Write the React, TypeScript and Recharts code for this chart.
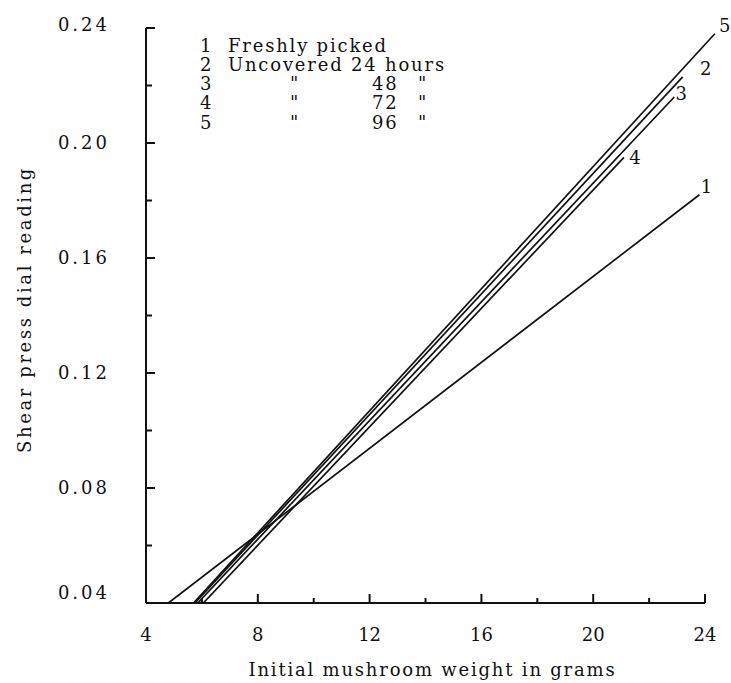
import { LineChart, Line, XAxis, YAxis, ReferenceLine, Legend, Label } from 'recharts';

// tick values
const weightTicks = [4, 6, 8, 10, 12, 14, 16, 18, 20, 22, 24];
const readingTicks = [0.04, 0.06, 0.08, 0.1, 0.12, 0.14, 0.16, 0.18, 0.2, 0.22, 0.24];

// each curve is a straight fit: start on the x axis, end at the top right
const freshlyPicked = [
  { weight: 4.8, reading: 0.04 },
  { weight: 23.8, reading: 0.182 },
];
const uncovered24 = [
  { weight: 5.75, reading: 0.04 },
  { weight: 23.2, reading: 0.223 },
];
const uncovered48 = [
  { weight: 5.85, reading: 0.04 },
  { weight: 22.9, reading: 0.216 },
];
const uncovered72 = [
  { weight: 6.05, reading: 0.04 },
  { weight: 21.1, reading: 0.195 },
];
const uncovered96 = [
  { weight: 5.7, reading: 0.04 },
  { weight: 24.35, reading: 0.238 },
];

const seriesIds = ['1', '2', '3', '4', '5'];
const seriesHours = [0, 24, 48, 72, 96];

const font = '"DejaVu Serif", serif';
const ink = '#111';

// where each curve number sits relative to the curve's end
const endLabelOffset: Record<string, [number, number]> = {
  '1': [7, -8],
  '2': [23, -8],
  '3': [7, -3],
  '4': [11, 0],
  '5': [10, -8],
};

const WeightTick = (props: any) => {
  const { x, y, payload } = props;
  const v = payload.value;
  const major = v % 4 === 0;
  return (
    <g>
      <line x1={x} x2={x} y1={y} y2={y - (major ? 9 : 5)} stroke={ink} strokeWidth={2} />
      {major && (
        <text x={x} y={y + 32} dy="0.35em" textAnchor="middle" fontFamily={font} fontSize={18} fill={ink}>
          {v}
        </text>
      )}
    </g>
  );
};

const ReadingTick = (props: any) => {
  const { x, y, payload } = props;
  const v = payload.value;
  const hundredths = Math.round(v * 100);
  const major = hundredths % 4 === 0;
  const shift = hundredths === 4 ? -10 : hundredths === 24 ? -3 : 0;
  return (
    <g>
      <line x1={x} x2={x + (major ? 9 : 6)} y1={y} y2={y} stroke={ink} strokeWidth={2} />
      {major && (
        <text
          x={x - 36}
          y={y + shift}
          dy="0.35em"
          textAnchor="end"
          fontFamily={font}
          fontSize={18}
          letterSpacing={3}
          fill={ink}
        >
          {v.toFixed(2)}
        </text>
      )}
    </g>
  );
};

const endLabel = (id: string) => (props: any) => {
  if (props.index !== 1) return <g />;
  const [dx, dy] = endLabelOffset[id];
  return (
    <text
      x={props.x + dx}
      y={props.y + dy}
      dy="0.35em"
      textAnchor="middle"
      fontFamily={font}
      fontSize={18}
      fill={ink}
    >
      {id}
    </text>
  );
};

const XTitle = (props: any) => {
  const { x, y, width } = props.viewBox;
  return (
    <text x={x + width / 2} y={y + 67} dy="0.35em" textAnchor="middle" fontFamily={font} fontSize={18} letterSpacing={1.8} fill={ink}>
      Initial mushroom weight in grams
    </text>
  );
};

const YTitle = (props: any) => {
  const { y, height } = props.viewBox;
  const cx = 25;
  const cy = y + height / 2 - 6;
  return (
    <text
      x={cx}
      y={cy}
      dy="0.35em"
      textAnchor="middle"
      transform={`rotate(-90, ${cx}, ${cy})`}
      fontFamily={font}
      fontSize={18}
      letterSpacing={2.6}
      fill={ink}
    >
      Shear press dial reading
    </text>
  );
};

const rowHeight = 19.3;

const LegendBlock = () => (
  <div style={{ position: 'relative', fontFamily: font, fontSize: 18, color: ink, letterSpacing: 1.8, lineHeight: `${rowHeight}px` }}>
    {seriesIds.map((id, i) => (
      <div key={id} style={{ position: 'relative', height: rowHeight, whiteSpace: 'nowrap' }}>
        <span style={{ position: 'absolute', left: 0 }}>{id}</span>
        {i === 0 && <span style={{ position: 'absolute', left: 28 }}>Freshly picked</span>}
        {i === 1 && <span style={{ position: 'absolute', left: 28 }}>Uncovered {seriesHours[i]} hours</span>}
        {i > 1 && (
          <>
            <span style={{ position: 'absolute', left: 90 }}>"</span>
            <span style={{ position: 'absolute', left: 172 }}>{seriesHours[i]}</span>
            <span style={{ position: 'absolute', left: 218 }}>"</span>
          </>
        )}
      </div>
    ))}
  </div>
);

const series = [
  { id: '1', data: freshlyPicked },
  { id: '2', data: uncovered24 },
  { id: '3', data: uncovered48 },
  { id: '4', data: uncovered72 },
  { id: '5', data: uncovered96 },
];

export default function App() {
  return (
    <div style={{ position: 'absolute', left: 0, top: 0, width: 731, height: 683, background: '#fff' }}>
      <LineChart width={731} height={683} margin={{ top: 28, right: 12, left: 0, bottom: 0 }}>
        <XAxis
          dataKey="weight"
          type="number"
          domain={[4, 24.5]}
          allowDataOverflow
          ticks={weightTicks}
          interval={0}
          axisLine={false}
          tickLine={false}
          tickSize={0}
          tickMargin={0}
          tick={<WeightTick />}
          height={80}
        >
          <Label content={<XTitle />} />
        </XAxis>
        <YAxis
          dataKey="reading"
          type="number"
          domain={[0.04, 0.24]}
          allowDataOverflow
          ticks={readingTicks}
          interval={0}
          axisLine={{ stroke: ink, strokeWidth: 2 }}
          tickLine={false}
          tickSize={0}
          tickMargin={0}
          tick={<ReadingTick />}
          width={146}
        >
          <Label content={<YTitle />} />
        </YAxis>
        <ReferenceLine
          segment={[{ x: 4, y: 0.04 }, { x: 24, y: 0.04 }]}
          stroke={ink}
          strokeWidth={2}
        />
        <Legend
          layout="horizontal"
          verticalAlign="middle"
          align="center"
          content={() => <LegendBlock />}
          wrapperStyle={{ position: 'absolute', left: 200, top: 35.5, width: 300, height: 100 }}
        />
        {series.map((s) => (
          <Line
            key={s.id}
            data={s.data}
            dataKey="reading"
            type="linear"
            stroke={ink}
            strokeWidth={1.7}
            dot={false}
            activeDot={false}
            label={endLabel(s.id)}
            isAnimationActive={false}
          />
        ))}
      </LineChart>
    </div>
  );
}
